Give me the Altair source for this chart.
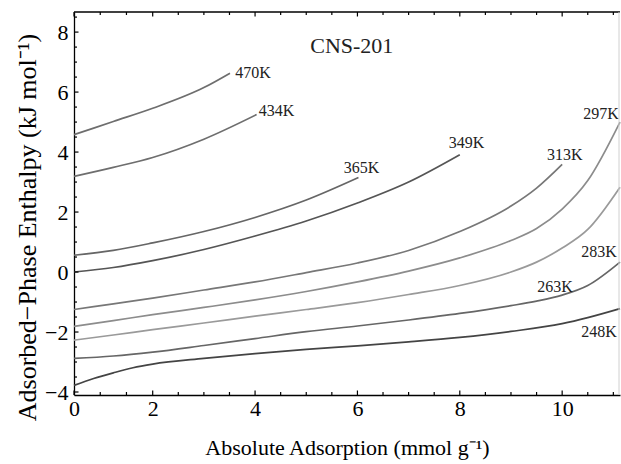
import altair as alt
import pandas as pd

# Isotherm curves: absolute adsorption (mmol/g) vs adsorbed-phase enthalpy (kJ/mol)
temps = ["470K", "434K", "365K", "349K", "313K", "297K", "283K", "263K", "248K"]

x_470 = [0, 1, 2, 3, 3.51]
h_470 = [4.58, 5.02, 5.46, 6.15, 6.63]

x_434 = [0, 1, 2, 3, 4.03]
h_434 = [3.19, 3.49, 3.82, 4.43, 5.25]

x_365 = [0, 1, 2, 3, 4, 5, 6.02]
h_365 = [0.56, 0.72, 0.97, 1.35, 1.82, 2.40, 3.15]

x_349 = [0, 1, 2, 3, 4, 5, 6, 7, 8]
h_349 = [0.00, 0.15, 0.38, 0.75, 1.20, 1.70, 2.30, 3.00, 3.91]

x_313 = [0, 1, 2, 3, 4, 5, 6, 7, 8, 9, 9.5, 10]
h_313 = [-1.25, -1.06, -0.87, -0.60, -0.33, -0.02, 0.30, 0.72, 1.35, 2.20, 2.80, 3.59]

x_297 = [0, 1, 2, 3, 4, 5, 6, 7, 8, 9, 9.5, 10, 10.5, 11.13]
h_297 = [-1.81, -1.62, -1.42, -1.18, -0.93, -0.65, -0.33, 0.03, 0.47, 1.05, 1.45, 2.10, 3.05, 5.00]

x_283 = [0, 1, 2, 3, 4, 5, 6, 7, 8, 9, 9.5, 10, 10.5, 11.13]
h_283 = [-2.27, -2.10, -1.92, -1.70, -1.47, -1.25, -1.02, -0.75, -0.45, 0.00, 0.33, 0.80, 1.42, 2.83]

x_263 = [0, 1, 2, 3, 4, 5, 6, 7, 8, 9, 9.5, 10, 10.5, 11.13]
h_263 = [-2.88, -2.80, -2.67, -2.45, -2.22, -1.99, -1.80, -1.60, -1.38, -1.12, -0.97, -0.77, -0.45, 0.33]

x_248 = [0, 0.5, 1, 1.5, 2, 3, 4, 5, 6, 7, 8, 9, 10, 10.5, 11.13]
h_248 = [-3.78, -3.55, -3.36, -3.19, -3.07, -2.88, -2.72, -2.58, -2.46, -2.33, -2.18, -1.98, -1.72, -1.52, -1.22]

curve_x = [x_470, x_434, x_365, x_349, x_313, x_297, x_283, x_263, x_248]
curve_h = [h_470, h_434, h_365, h_349, h_313, h_297, h_283, h_263, h_248]
line_colors = ["#6e6e6e", "#6e6e6e", "#666666", "#555555", "#777777",
               "#8c8c8c", "#9a9a9a", "#666666", "#444444"]

# Curve annotations
label_text = temps
label_x = [3.96, 4.42, 6.08, 8.13, 10.05, 10.76, 10.72, 9.86, 10.72]
label_y = [6.64, 5.37, 3.47, 4.30, 3.90, 5.27, 0.67, -0.50, -2.00]

# Axis tick positions
x_major = [0, 2, 4, 6, 8, 10]
x_minor = [0.667, 1.333, 2.5, 3, 3.5, 4.5, 5, 5.5, 6.5, 7, 7.5, 8.5, 9, 9.5, 10.5, 11]
y_major = [-4, -2, 0, 2, 4, 6, 8]
y_minor = [-3.5, -3, -2.5, -1.5, -1, -0.5, 0.5, 1, 1.5, 2.5, 3, 3.5,
           4.5, 5, 5.5, 6.5, 7, 7.5, 8.5]

rows = []
for t, xs, hs in zip(temps, curve_x, curve_h):
    for i, (xv, hv) in enumerate(zip(xs, hs)):
        rows.append({"T": t, "x": xv, "h": hv, "i": i})
curves = pd.DataFrame(rows)
labels = pd.DataFrame({"text": label_text, "x": label_x, "h": label_y})

W, H = 546, 383
FONT = "Liberation Serif"

x_scale = alt.Scale(domain=[0, 2, 11.13], range=[0, 78.7, W], nice=False, zero=False)
y_scale = alt.Scale(domain=[-4.1, 8.67], nice=False, zero=False)

x_axis = alt.Axis(
    title="Absolute Adsorption (mmol g⁻¹)", values=x_major, ticks=False, grid=False,
    labelFont=FONT, labelFontSize=22, labelColor="black", labelPadding=3,
    titleFont=FONT, titleFontSize=22, titleFontWeight="normal", titleColor="black",
    titlePadding=18, domainColor="black", domainWidth=1.3, labelFlush=False,
)
y_axis = alt.Axis(
    title="Adsorbed−Phase Enthalpy (kJ mol⁻¹)", values=y_major, ticks=False, grid=False,
    labelFont=FONT, labelFontSize=22, labelColor="black", labelPadding=6,
    titleFont=FONT, titleFontSize=26, titleFontWeight="normal", titleColor="black",
    titleX=-39, titleY=215, titleBaseline="alphabetic",
    domainColor="black", domainWidth=1.3, labelFlush=False,
)

lines = alt.Chart(curves).mark_line(strokeWidth=1.7, interpolate="monotone").encode(
    x=alt.X("x:Q", scale=x_scale, axis=x_axis),
    y=alt.Y("h:Q", scale=y_scale, axis=y_axis),
    color=alt.Color("T:N", scale=alt.Scale(domain=temps, range=line_colors), legend=None),
    detail="T:N",
    order="i:Q",
)

text = alt.Chart(labels).mark_text(font=FONT, fontSize=16, color="#222222").encode(
    x=alt.X("x:Q", scale=x_scale),
    y=alt.Y("h:Q", scale=y_scale),
    text="text:N",
)

title_mark = alt.Chart(pd.DataFrame({"x": [5.89], "h": [7.54], "t": ["CNS-201"]})).mark_text(
    font=FONT, fontSize=22, color="#222222"
).encode(x=alt.X("x:Q", scale=x_scale), y=alt.Y("h:Q", scale=y_scale), text="t:N")

# Frame: top edge and faint right edge
top_frame = alt.Chart(pd.DataFrame({"a": [0]})).mark_rule(color="black", strokeWidth=1.3).encode(
    x=alt.value(0), x2=alt.value(W), y=alt.value(0)
)
right_frame = alt.Chart(pd.DataFrame({"a": [0]})).mark_rule(color="#d0d0d0", strokeWidth=1).encode(
    x=alt.value(W - 1), y=alt.value(0), y2=alt.value(H)
)

# Inward-pointing ticks on bottom, top and left edges
def x_ticks(vals, length):
    df = pd.DataFrame({"x": vals})
    base = alt.Chart(df).mark_rule(color="black", strokeWidth=1.2)
    bottom = base.encode(x=alt.X("x:Q", scale=x_scale), y=alt.value(H), y2=alt.value(H - length))
    top = base.encode(x=alt.X("x:Q", scale=x_scale), y=alt.value(0), y2=alt.value(length))
    return bottom + top

def y_ticks(vals, length):
    df = pd.DataFrame({"h": vals})
    return alt.Chart(df).mark_rule(color="black", strokeWidth=1.2).encode(
        y=alt.Y("h:Q", scale=y_scale), x=alt.value(0), x2=alt.value(length)
    )

chart = alt.layer(
    lines, text, title_mark, top_frame, right_frame,
    x_ticks(x_major, 4.5), x_ticks(x_minor, 3),
    y_ticks(y_major, 4.5), y_ticks(y_minor, 3),
).properties(
    width=W, height=H,
    autosize=alt.AutoSizeParams(type="none"),
    padding={"left": 74, "top": 12, "right": 1, "bottom": 69},
    background="white",
).configure_view(stroke=None)

chart.save("out.html", embed_options={"renderer": "svg", "actions": False})
